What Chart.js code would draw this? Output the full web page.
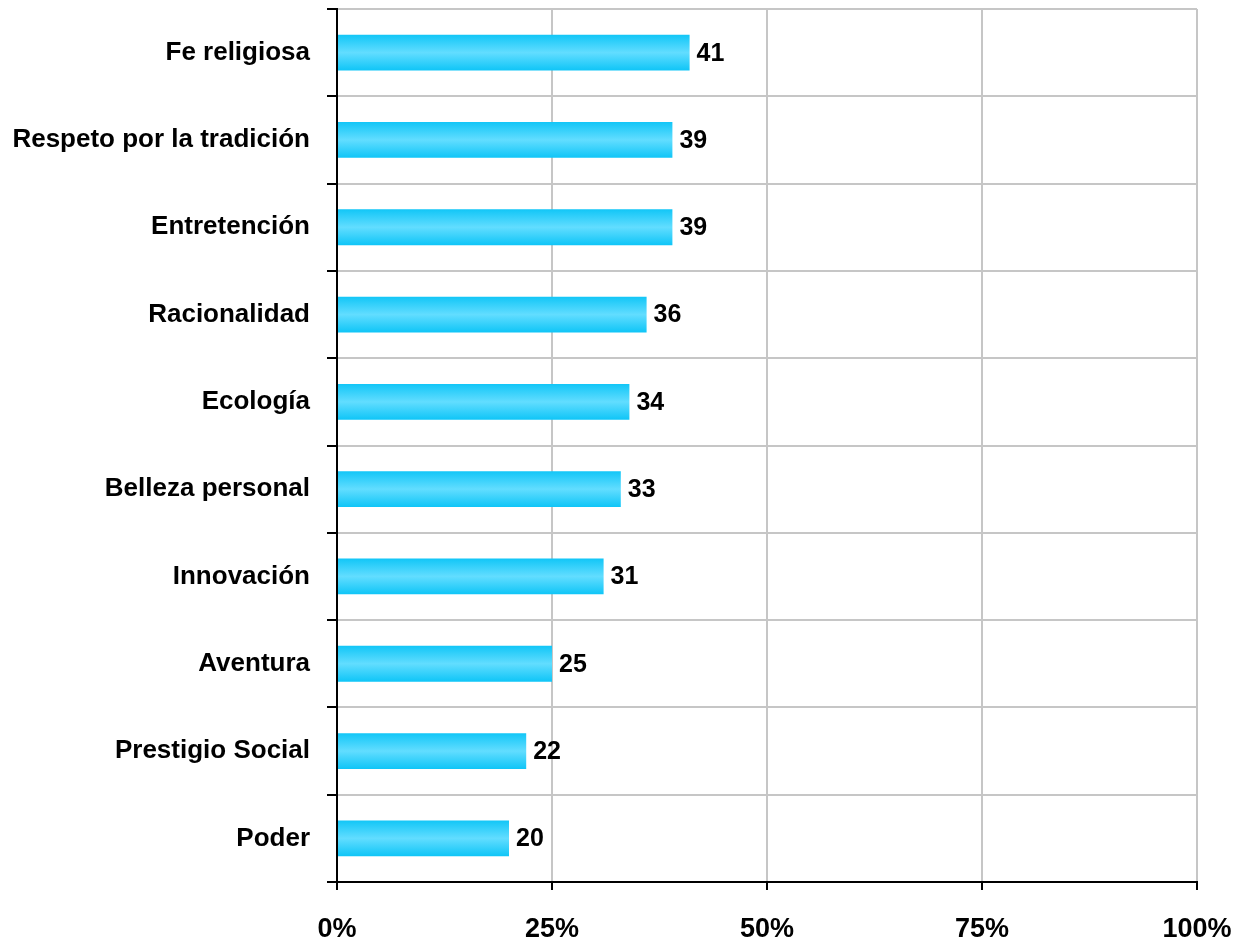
<!DOCTYPE html>
<html>
<head>
<meta charset="utf-8">
<title>Valores</title>
<script src="https://cdn.jsdelivr.net/npm/chart.js@4.4.1/dist/chart.umd.min.js"></script>
<style>
    html, body { margin: 0; padding: 0; background: #fff; }
    #wrap { width: 1237px; height: 945px; }
</style>
</head>
<body>
<div id="wrap"><canvas id="valuesChart"></canvas></div>
<script>
// Categories and percentages
const categories = ['Fe religiosa', 'Respeto por la tradición', 'Entretención', 'Racionalidad', 'Ecología',
    'Belleza personal', 'Innovación', 'Aventura', 'Prestigio Social', 'Poder'];
const values = [41, 39, 39, 36, 34, 33, 31, 25, 22, 20];
const xTicks = [0, 25, 50, 75, 100];

const fontFamily = "'Liberation Sans', Arial, sans-serif";
const barPct = 0.41;

// Vertical shading on each bar: darker edges, lighter middle
function barGradient(context) {
    const chart = context.chart;
    const yScale = chart.scales.y;
    if (!chart.chartArea || !yScale) return '#3fd3fb';
    const center = yScale.getPixelForValue(context.dataIndex);
    const half = (chart.chartArea.height / categories.length) * barPct / 2;
    const g = chart.ctx.createLinearGradient(0, center - half, 0, center + half);
    g.addColorStop(0, '#12c6f7');
    g.addColorStop(0.5, '#62ddff');
    g.addColorStop(1, '#0fc5f7');
    return g;
}

// Value labels to the right of each bar
const valueLabels = {
    id: 'valueLabels',
    afterDatasetsDraw(chart) {
        const ctx = chart.ctx;
        const meta = chart.getDatasetMeta(0);
        ctx.save();
        ctx.font = 'bold 25px ' + fontFamily;
        ctx.fillStyle = '#000';
        ctx.textAlign = 'left';
        ctx.textBaseline = 'middle';
        meta.data.forEach(function(bar, i) {
            ctx.fillText(values[i], bar.x + 7, bar.y + 1);
        });
        ctx.restore();
    }
};

new Chart(document.getElementById('valuesChart'), {
    type: 'bar',
    data: {
        labels: categories,
        datasets: [{
            data: values,
            backgroundColor: barGradient,
            borderWidth: 0,
            categoryPercentage: 1,
            barPercentage: barPct
        }]
    },
    options: {
        indexAxis: 'y',
        responsive: true,
        maintainAspectRatio: false,
        animation: false,
        layout: { padding: { top: 9, left: 0, right: 40, bottom: 0 } },
        plugins: {
            legend: { display: false },
            tooltip: { enabled: false }
        },
        scales: {
            x: {
                min: 0,
                max: 100,
                afterBuildTicks: function(scale) {
                    scale.ticks = xTicks.map(function(v) { return { value: v }; });
                },
                afterFit: function(scale) {
                    scale.height = 63;
                    scale.paddingLeft = 0;
                    scale.paddingRight = 0;
                },
                grid: {
                    color: '#c6c6c6',
                    lineWidth: 2,
                    tickColor: '#000',
                    tickLength: 8,
                    tickWidth: 2
                },
                border: { color: '#000', width: 2 },
                ticks: {
                    color: '#000',
                    padding: 23,
                    maxRotation: 0,
                    font: { family: fontFamily, size: 27, weight: 'bold' },
                    callback: function(v) { return v + '%'; }
                }
            },
            y: {
                afterFit: function(scale) {
                    scale.width = 337;
                    scale.paddingTop = 0;
                    scale.paddingBottom = 0;
                },
                grid: {
                    offset: true,
                    color: '#c6c6c6',
                    lineWidth: 2,
                    tickColor: '#000',
                    tickLength: 10,
                    tickWidth: 2
                },
                border: { color: '#000', width: 2 },
                ticks: {
                    color: '#000',
                    padding: 17,
                    font: { family: fontFamily, size: 26, weight: 'bold' }
                }
            }
        }
    },
    plugins: [valueLabels]
});
</script>
</body>
</html>
